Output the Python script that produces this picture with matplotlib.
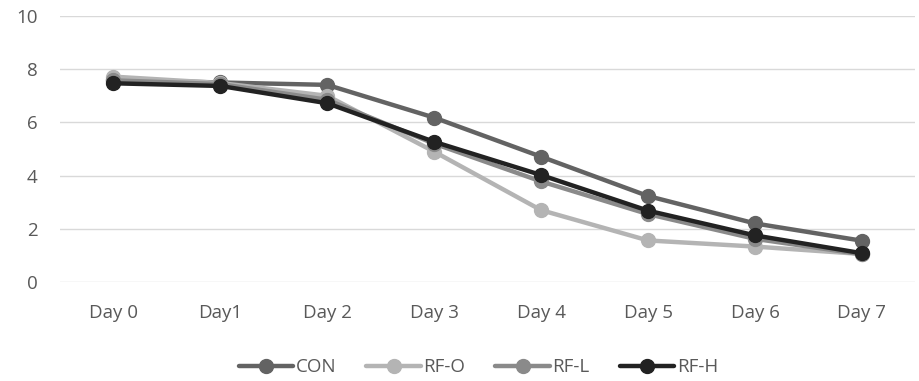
import numpy as np
import matplotlib.pyplot as plt

plt.rcParams['font.family'] = ['Open Sans', 'DejaVu Sans']

days = ['Day 0', 'Day1', 'Day 2', 'Day 3', 'Day 4', 'Day 5', 'Day 6', 'Day 7']
con = [7.60, 7.50, 7.41, 6.18, 4.71, 3.23, 2.20, 1.55]
rf_o = [7.72, 7.48, 7.00, 4.90, 2.70, 1.56, 1.33, 1.05]
rf_l = [7.58, 7.44, 6.85, 5.20, 3.78, 2.55, 1.62, 1.04]
rf_h = [7.47, 7.37, 6.72, 5.27, 4.02, 2.68, 1.75, 1.08]

series = [('CON', con, '#636363'),
          ('RF-O', rf_o, '#b4b4b4'),
          ('RF-L', rf_l, '#8a8a8a'),
          ('RF-H', rf_h, '#222222')]

fig = plt.figure(figsize=(9.2, 3.81), dpi=100)
ax = fig.add_axes([0.065, 0.26, 0.93, 0.698])

x = np.arange(len(days))
for name, vals, col in series:
    ax.plot(x, vals, color=col, lw=3.2, marker='o', ms=10, label=name,
            solid_capstyle='round')

ax.set_xlim(-0.5, len(days) - 0.5)
ax.set_ylim(0, 10)
ax.set_yticks(range(0, 11, 2))
ax.set_xticks(x)
ax.set_xticklabels(days)
ax.grid(axis='y', color='#d9d9d9', lw=1)
ax.set_axisbelow(True)
for s in ax.spines.values():
    s.set_visible(False)
ax.tick_params(length=0, labelsize=13.5, colors='#595959', pad=16)
ax.tick_params(axis='y', pad=16)

leg = fig.legend(loc='center', bbox_to_anchor=(0.52, 0.036), ncol=4,
                 frameon=False, fontsize=13.5, handlelength=2.9,
                 handletextpad=0.15, columnspacing=1.6)
for t in leg.get_texts():
    t.set_color('#595959')

fig.savefig('out.png', dpi=100)
